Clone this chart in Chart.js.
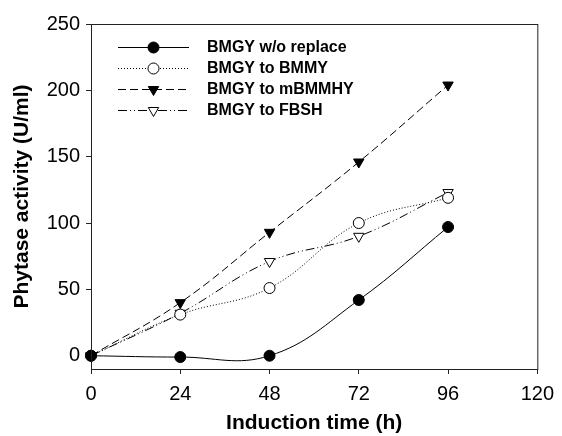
<!DOCTYPE html>
<html>
<head>
<meta charset="utf-8">
<script src="https://cdn.jsdelivr.net/npm/chart.js@4/dist/chart.umd.min.js"></script>
<style>
  html, body { margin: 0; padding: 0; background: #fff; }
  #wrap { width: 562px; height: 436px; position: relative; }
</style>
</head>
<body>
<div id="wrap"><canvas id="chart"></canvas></div>
<script>
// Induction time (h)
const hours = [0, 24, 48, 72, 96];

// Phytase activity (U/ml)
const woReplace = [0, -1, 0, 42, 97];
const toBMMY = [0, 31, 51, 100, 119];
const toMBMMHY = [0, 40, 93, 146, 204];
const toFBSH = [0, 32, 71, 90, 123];

const seriesNames = ['BMGY w/o replace', 'BMGY to BMMY', 'BMGY to mBMMHY', 'BMGY to FBSH'];
const yTicks = [0, 50, 100, 150, 200, 250];

const FONT = '"Liberation Sans", Arial, Helvetica, sans-serif';

function toPoints(values) {
    return hours.map((h, i) => ({ x: h, y: values[i] }));
}

// legend drawn inside the plot, line sample with the marker in the middle
const innerLegend = {
    id: 'innerLegend',
    afterDraw(chart) {
        const ctx = chart.ctx;
        const area = chart.chartArea;
        ctx.save();
        // box around the plot
        ctx.strokeStyle = '#222';
        ctx.lineWidth = 1;
        ctx.strokeRect(area.left + 0.5, area.top + 0.5, area.right - area.left, area.bottom - area.top);

        chart.data.datasets.forEach((ds, i) => {
            const y = area.top + 23 + i * 21;
            const x0 = area.left + 27;
            const x1 = area.left + 98;
            ctx.beginPath();
            ctx.setLineDash(ds.borderDash || []);
            ctx.strokeStyle = '#000';
            ctx.lineWidth = 1;
            ctx.moveTo(x0, y + 0.5);
            ctx.lineTo(x1, y + 0.5);
            ctx.stroke();
            ctx.setLineDash([]);
            ctx.fillStyle = ds.pointBackgroundColor;
            ctx.strokeStyle = '#000';
            Chart.helpers.drawPoint(ctx, {
                pointStyle: ds.pointStyle,
                rotation: ds.pointRotation || 0,
                radius: ds.pointRadius,
                borderWidth: 1
            }, (x0 + x1) / 2, y + 0.5);

            ctx.fillStyle = '#000';
            ctx.font = 'bold 16px ' + FONT;
            ctx.textBaseline = 'middle';
            ctx.textAlign = 'left';
            ctx.fillText(ds.label, area.left + 116, y + 1);
        });
        ctx.restore();
    }
};

const common = {
    borderColor: '#000',
    borderWidth: 1,
    pointBorderColor: '#000',
    pointBorderWidth: 1,
    tension: 0.4,
    clip: false
};

new Chart(document.getElementById('chart'), {
    type: 'line',
    data: {
        datasets: [
            Object.assign({}, common, {
                label: seriesNames[0],
                data: toPoints(woReplace),
                pointStyle: 'circle',
                pointRadius: 5.5,
                pointBackgroundColor: '#000'
            }),
            Object.assign({}, common, {
                label: seriesNames[1],
                data: toPoints(toBMMY),
                borderDash: [1, 2],
                pointStyle: 'circle',
                pointRadius: 5.5,
                pointBackgroundColor: '#fff'
            }),
            Object.assign({}, common, {
                label: seriesNames[2],
                data: toPoints(toMBMMHY),
                borderDash: [8, 4],
                pointStyle: 'triangle',
                pointRotation: 180,
                pointRadius: 6,
                pointBackgroundColor: '#000'
            }),
            Object.assign({}, common, {
                label: seriesNames[3],
                data: toPoints(toFBSH),
                borderDash: [9, 3, 1, 3, 1, 3],
                pointStyle: 'triangle',
                pointRotation: 180,
                pointRadius: 6,
                pointBackgroundColor: '#fff'
            })
        ]
    },
    options: {
        responsive: true,
        maintainAspectRatio: false,
        animation: false,
        layout: { padding: { top: 24, right: 17, left: 0, bottom: 0 } },
        plugins: {
            legend: { display: false },
            tooltip: { enabled: false }
        },
        scales: {
            x: {
                type: 'linear',
                min: 0,
                max: 120,
                ticks: {
                    stepSize: 24,
                    color: '#000',
                    padding: 8,
                    font: { family: FONT, size: 20 }
                },
                grid: { drawOnChartArea: false, tickLength: 5, color: '#222' },
                border: { color: '#222' },
                title: {
                    display: true,
                    text: 'Induction time (h)',
                    color: '#000',
                    font: { family: FONT, size: 21, weight: 'bold' },
                    padding: { top: 0, bottom: 0 }
                },
                afterFit(scale) { scale.height = 67; }
            },
            y: {
                type: 'linear',
                min: -10,
                max: 250,
                afterBuildTicks(scale) {
                    scale.ticks = yTicks.map(v => ({ value: v }));
                },
                ticks: {
                    color: '#000',
                    padding: 6,
                    font: { family: FONT, size: 20 }
                },
                grid: { drawOnChartArea: false, tickLength: 5, color: '#222' },
                border: { color: '#222' },
                title: {
                    display: true,
                    text: 'Phytase activity (U/ml)',
                    color: '#000',
                    font: { family: FONT, size: 21, weight: 'bold' },
                    padding: { top: 10, bottom: 0 }
                },
                afterFit(scale) { scale.width = 91; }
            }
        }
    },
    plugins: [innerLegend]
});
</script>
</body>
</html>
